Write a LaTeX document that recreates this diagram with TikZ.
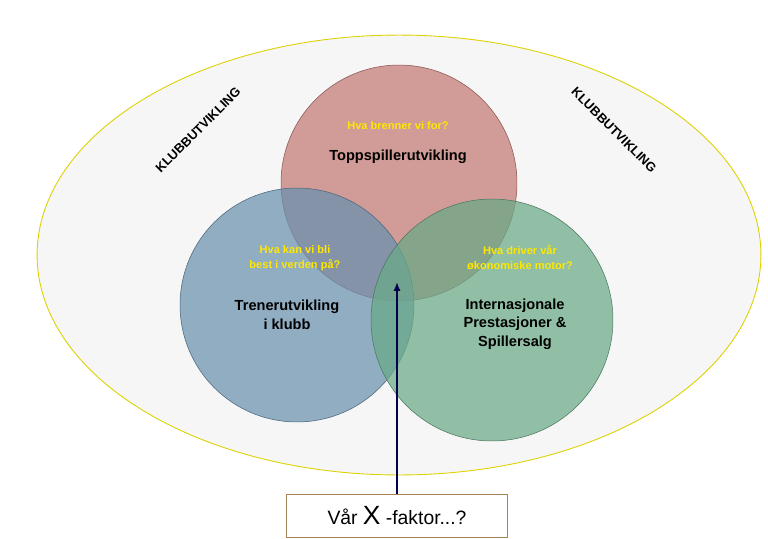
\documentclass[tikz,border=0pt]{standalone}
\usepackage{fontspec}
\setmainfont{Liberation Sans}
\usetikzlibrary{shapes.geometric,arrows.meta}
\definecolor{ctop}{RGB}{196,120,115}
\definecolor{cleft}{RGB}{105,145,175}
\definecolor{cright}{RGB}{105,170,135}
\begin{document}
\begin{tikzpicture}[x=0.02cm,y=-0.02cm,
  circ/.style={circle,draw=#1!70!black,line width=0.3pt,fill=#1,fill opacity=0.72,inner sep=0pt},
  q/.style={text=yellow!90!orange,font=\bfseries\fontsize{6.3}{8.5}\selectfont,align=center},
  t/.style={text=black,font=\bfseries\fontsize{8.3}{10.5}\selectfont,align=center},
  k/.style={font=\bfseries\fontsize{7.3}{9}\selectfont}]
\useasboundingbox (0,0) rectangle (768,538);
\node[ellipse,draw=yellow!70!olive,fill=gray!7,minimum width=14.48cm,minimum height=8.8cm,line width=0.5pt] (club) at (399,255) {};
\node[circ=ctop,minimum size=4.72cm] (top) at (399,183) {};
\node[circ=cleft,minimum size=4.68cm] (left) at (297,305) {};
\node[circ=cright,minimum size=4.84cm] (right) at (492,320) {};
\node[k,rotate=45] (k1) at (198,130) {KLUBBUTVIKLING};
\node[k,rotate=-45] (k2) at (614,130) {KLUBBUTVIKLING};
\node[q] (q1) at (398,126) {Hva brenner vi for?};
\node[t] (t1) at (398,157) {Toppspillerutvikling};
\node[q] (q2) at (295,258) {Hva kan vi bli\\best i verden på?};
\node[t] (t2) at (287,315) {Trenerutvikling\\i klubb};
\node[q] (q3) at (520,258) {Hva driver vår\\økonomiske motor?};
\node[t] (t3) at (515,324) {Internasjonale\\Prestasjoner \&\\Spillersalg};
\node[draw=brown!60!gray,fill=white,minimum width=4.42cm,minimum height=0.86cm,inner sep=0pt,font=\fontsize{11}{13}\selectfont] (box) at (397,516) {Vår {\fontsize{15}{16}\selectfont X} -faktor...?};
\coordinate (tip) at (397,282);
\draw[line width=1.2pt,draw=blue!30!black,-{Latex[length=5pt,width=4pt]}] (box.north) -- (tip);
\end{tikzpicture}
\end{document}
